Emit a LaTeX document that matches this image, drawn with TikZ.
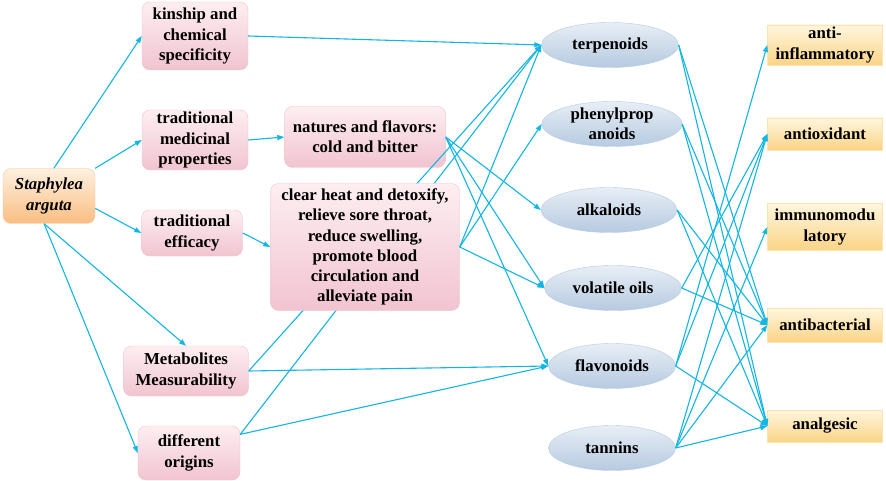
\documentclass[tikz,border=0pt]{standalone}
\usepackage{fontspec}
\setmainfont{Liberation Serif}
\usetikzlibrary{positioning}
\usetikzlibrary{shapes.geometric}
\usetikzlibrary{arrows.meta}

\definecolor{linkblue}{RGB}{18,182,228}
\definecolor{pinktop}{RGB}{253,238,242}
\definecolor{pinkbot}{RGB}{241,196,208}
\definecolor{pinkedge}{RGB}{238,196,206}
\definecolor{orangetop}{RGB}{254,240,224}
\definecolor{orangebot}{RGB}{250,190,130}
\definecolor{orangeedge}{RGB}{248,200,160}
\definecolor{bluetop}{RGB}{232,238,246}
\definecolor{bluebot}{RGB}{182,202,224}
\definecolor{blueedge}{RGB}{180,204,228}
\definecolor{goldtop}{RGB}{255,246,222}
\definecolor{goldbot}{RGB}{250,212,134}
\definecolor{goldedge}{RGB}{252,228,176}

\tikzset{
	textfont/.style={font=\bfseries\fontsize{16.8}{20.2}\selectfont, align=center, inner sep=0pt},
	herbbox/.style={textfont, draw=orangeedge, rounded corners=8pt, top color=orangetop, bottom color=orangebot},
	pinkbox/.style={textfont, draw=pinkedge, rounded corners=8pt, top color=pinktop, bottom color=pinkbot},
	compound/.style={textfont, ellipse, draw=blueedge, top color=bluetop, bottom color=bluebot, minimum height=45pt},
	effectbox/.style={textfont, draw=goldedge, top color=goldtop, bottom color=goldbot, minimum width=115pt},
	link/.style={linkblue, line width=1.1pt, -{Triangle[length=7pt,width=5pt]}}
}

\begin{document}
\begin{tikzpicture}[x=1pt,y=-1pt]
	\useasboundingbox (0,0) rectangle (886,481);
	% Herb %
	\node (sa) at (49,196) [herbbox, minimum width=92pt, minimum height=55pt] {\textit{Staphylea}\\\textit{arguta}};
	% Left Boxes %
	\node (kin) at (195,36) [pinkbox, minimum width=106pt, minimum height=68pt] {kinship and\\chemical\\specificity};
	\node (med) at (195,140) [pinkbox, minimum width=106pt, minimum height=60pt] {traditional\\medicinal\\properties};
	\node (eff) at (192,233) [pinkbox, minimum width=101pt, minimum height=46pt] {traditional\\efficacy};
	\node (met) at (186,371) [pinkbox, minimum width=125pt, minimum height=50pt] {Metabolites\\Measurability};
	\node (ori) at (189,453) [pinkbox, minimum width=102pt, minimum height=54pt] {different\\origins};
	\node (nat) at (365,137) [pinkbox, minimum width=161pt, minimum height=61pt] {natures and flavors:\\cold and bitter};
	% Compounds %
	\node (ter) at (610,45) [compound, minimum width=137pt] {terpenoids};
	\node (phe) at (612,124) [compound, minimum width=140pt, label={[textfont]center:phenylprop\\anoids}] {};
	\node (alk) at (609,210) [compound, minimum width=136pt] {alkaloids};
	\node (vol) at (613,288) [compound, minimum width=137pt] {volatile oils};
	\node (fla) at (612,366) [compound, minimum width=127pt] {flavonoids};
	\node (tan) at (612,448) [compound, minimum width=127pt] {tannins};
	% Effects %
	\node (ainf) at (825,45) [effectbox, minimum height=40pt] {anti-\\inflammatory};
	\node (aox) at (825,134) [effectbox, minimum height=32pt] {antioxidant};
	\node (imm) at (825,227) [effectbox, minimum height=47pt] {immunomodu\\latory};
	\node (abac) at (825,325) [effectbox, minimum height=34pt] {antibacterial};
	\node (anal) at (825,426) [effectbox, minimum height=32pt] {analgesic};
	% Herb Links %
	\draw [link] (sa.80) -- (kin.west);
	\draw [link] (sa.north east) -- (med.west);
	\draw [link] (sa.-15) -- (eff.west);
	\draw [link] (sa.-100) -- (met.north);
	\draw [link] (sa.-100) -- (ori.west);
	\draw [link] (med.east) -- (nat.west);
	% Links Behind Clear Heat Box %
	\draw [link] (met.east) -- (ter.west);
	\draw [link] (ori.20) -- (ter.west);
	% Clear Heat Box %
	\node (clr) at (365,247) [pinkbox, minimum width=189pt, minimum height=127pt] {clear heat and detoxify,\\relieve sore throat,\\reduce swelling,\\promote blood\\circulation and\\alleviate pain};
	\draw [link] (eff.east) -- (clr.west);
	% Compound Links %
	\draw [link] (kin.east) -- (ter.west);
	\draw [link] (met.east) -- (fla.west);
	\draw [link] (ori.20) -- (fla.west);
	\draw [link] (nat.east) -- (alk.west);
	\draw [link] (nat.east) -- (vol.west);
	\draw [link] (nat.east) -- (fla.west);
	\draw [link] (clr.east) -- (ter.west);
	\draw [link] (clr.east) -- (phe.west);
	\draw [link] (clr.east) -- (vol.west);
	% Effect Links %
	\foreach \c in {ter, phe, alk}
		{\draw [link] (\c.east) -- (abac.west);
		 \draw [link] (\c.east) -- (anal.west);}
	\draw [link] (vol.east) -- (aox.west);
	\draw [link] (vol.east) -- (abac.west);
	\draw [link] (fla.east) -- (ainf.west);
	\draw [link] (fla.east) -- (aox.west);
	\draw [link] (fla.east) -- (anal.west);
	\draw [link] (tan.east) -- (aox.west);
	\draw [link] (tan.east) -- (imm.west);
	\draw [link] (tan.east) -- (abac.west);
	\draw [link] (tan.east) -- (anal.west);
\end{tikzpicture}
\end{document}
